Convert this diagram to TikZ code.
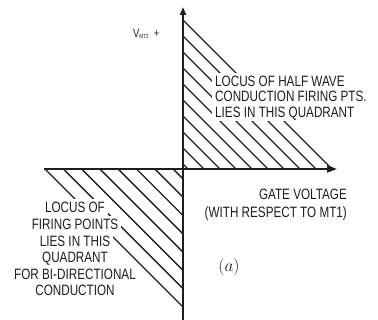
\documentclass[tikz,border=0pt]{standalone}
\usepackage{fontspec}
\newfontfamily\cond[FakeStretch=0.78]{Liberation Sans}
\usetikzlibrary{arrows.meta}
\definecolor{ink}{HTML}{1E1E1E}
\begin{document}
\begin{tikzpicture}[x=1pt,y=-1pt,
  hatch/.style={draw=ink, line width=1.4pt},
  axis/.style={draw=ink, line width=1.8pt},
  txt/.style={font=\cond\fontsize{15}{16}\selectfont, text=ink, inner sep=0pt},
  occl/.style={fill=white, inner xsep=3pt, inner ysep=3.5pt, text height=10.7pt, text depth=0pt}]
\useasboundingbox[fill=white] (0,0) rectangle (378,320);
% hatching, upper right quadrant
\foreach \i in {0,...,9}{
  \pgfmathsetmacro\yy{20+16*\i}
  \draw[hatch] (183,\yy) -- ({352-\yy},169);
}
% hatching, lower left quadrant
\foreach \k in {0,...,7}{
  \pgfmathsetmacro\xx{45+18.3*\k}
  \draw[hatch] (\xx,169) -- (183,{352-\xx});
}
% texts covering the hatching
\node[txt,occl,anchor=base west] (u1) at (212,87) {LOCUS OF HALF WAVE};
\node[txt,occl,anchor=base west] (u2) at (212,102) {CONDUCTION FIRING PTS.};
\node[txt,occl,anchor=base west] (u3) at (212,118) {LIES IN THIS QUADRANT};
\node[txt,occl,anchor=base] (l1) at (75,213) {LOCUS OF};
\node[txt,occl,anchor=base] (l2) at (75,230) {FIRING POINTS};
\node[txt,occl,anchor=base] (l3) at (75,247) {LIES IN THIS};
\node[txt,occl,anchor=base] (l4) at (75,263) {QUADRANT};
\node[txt,occl,anchor=base] (l5) at (75,280) {FOR BI-DIRECTIONAL};
\node[txt,occl,anchor=base] (l6) at (75,296) {CONDUCTION};
% axes
\coordinate (ytop) at (183,7);
\coordinate (ybot) at (183,320);
\coordinate (xl) at (44,169);
\coordinate (xr) at (337,169);
\draw[axis,-{Triangle[length=8pt,width=6pt]}] (ybot) -- (ytop);
\draw[axis,-{Triangle[length=10pt,width=7pt]}] (xl) -- (xr);
% labels
\node[txt,anchor=base west,font=\cond\fontsize{12}{12}\selectfont] (v) at (133,38)
  {V\raisebox{-1pt}{\fontsize{6}{6}\selectfont MT2}\hspace{5pt}+};
\node[txt,anchor=base east] (g1) at (347,200) {GATE VOLTAGE};
\node[txt,anchor=base east] (g2) at (347,218) {(WITH RESPECT TO MT1)};
\node[text=ink,inner sep=0pt,font=\fontsize{18}{18}\selectfont] (a) at (229,267) {$(a)$};
\end{tikzpicture}
\end{document}
